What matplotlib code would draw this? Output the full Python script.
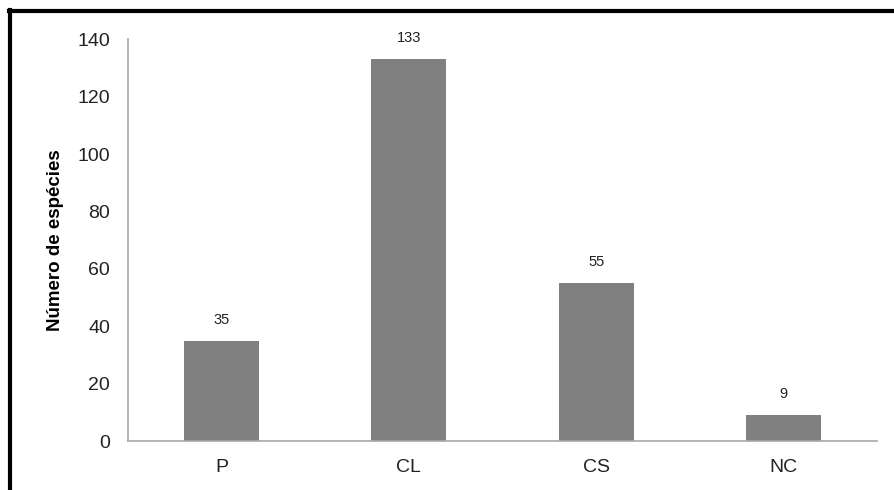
import numpy as np
import matplotlib.pyplot as plt
from matplotlib.lines import Line2D

plt.rcParams['font.family'] = ['Liberation Sans', 'DejaVu Sans']

# Dados
categorias = ["P", "CL", "CS", "NC"]
especies = [35, 133, 55, 9]

fig = plt.figure(figsize=(8.95, 4.9), dpi=100)
ax = fig.add_axes([0.143, 0.100, 0.837, 0.820])

x = np.arange(len(categorias))
ax.bar(x, especies, width=0.4, color="#808080")

for xi, v in zip(x, especies):
    ax.annotate(str(v), (xi, v), xytext=(0, 10), textcoords="offset points",
                ha="center", va="bottom", fontsize=10.5, color="#222222")

ax.set_xlim(-0.5, len(categorias) - 0.5)
ax.set_ylim(0, 140)
ax.set_yticks(range(0, 141, 20))
ax.set_xticks(x)
ax.set_xticklabels(categorias)
ax.tick_params(axis="both", length=0, labelsize=14, colors="#222222")
ax.tick_params(axis="y", pad=13)
ax.tick_params(axis="x", pad=13)

for s in ["top", "right"]:
    ax.spines[s].set_visible(False)
for s in ["left", "bottom"]:
    ax.spines[s].set_color("#a8a8a8")
    ax.spines[s].set_linewidth(1.2)

ax.set_ylabel("Número de espécies", fontsize=13.5, fontweight="bold")
ax.yaxis.set_label_coords(-0.085, 0.5)

# moldura (topo e esquerda)
fig.add_artist(Line2D([0.010, 1.0], [0.978, 0.978], transform=fig.transFigure,
                      color="black", linewidth=3))
fig.add_artist(Line2D([0.011, 0.011], [0.0, 0.979], transform=fig.transFigure,
                      color="black", linewidth=3))

fig.savefig("out.png", dpi=100)
